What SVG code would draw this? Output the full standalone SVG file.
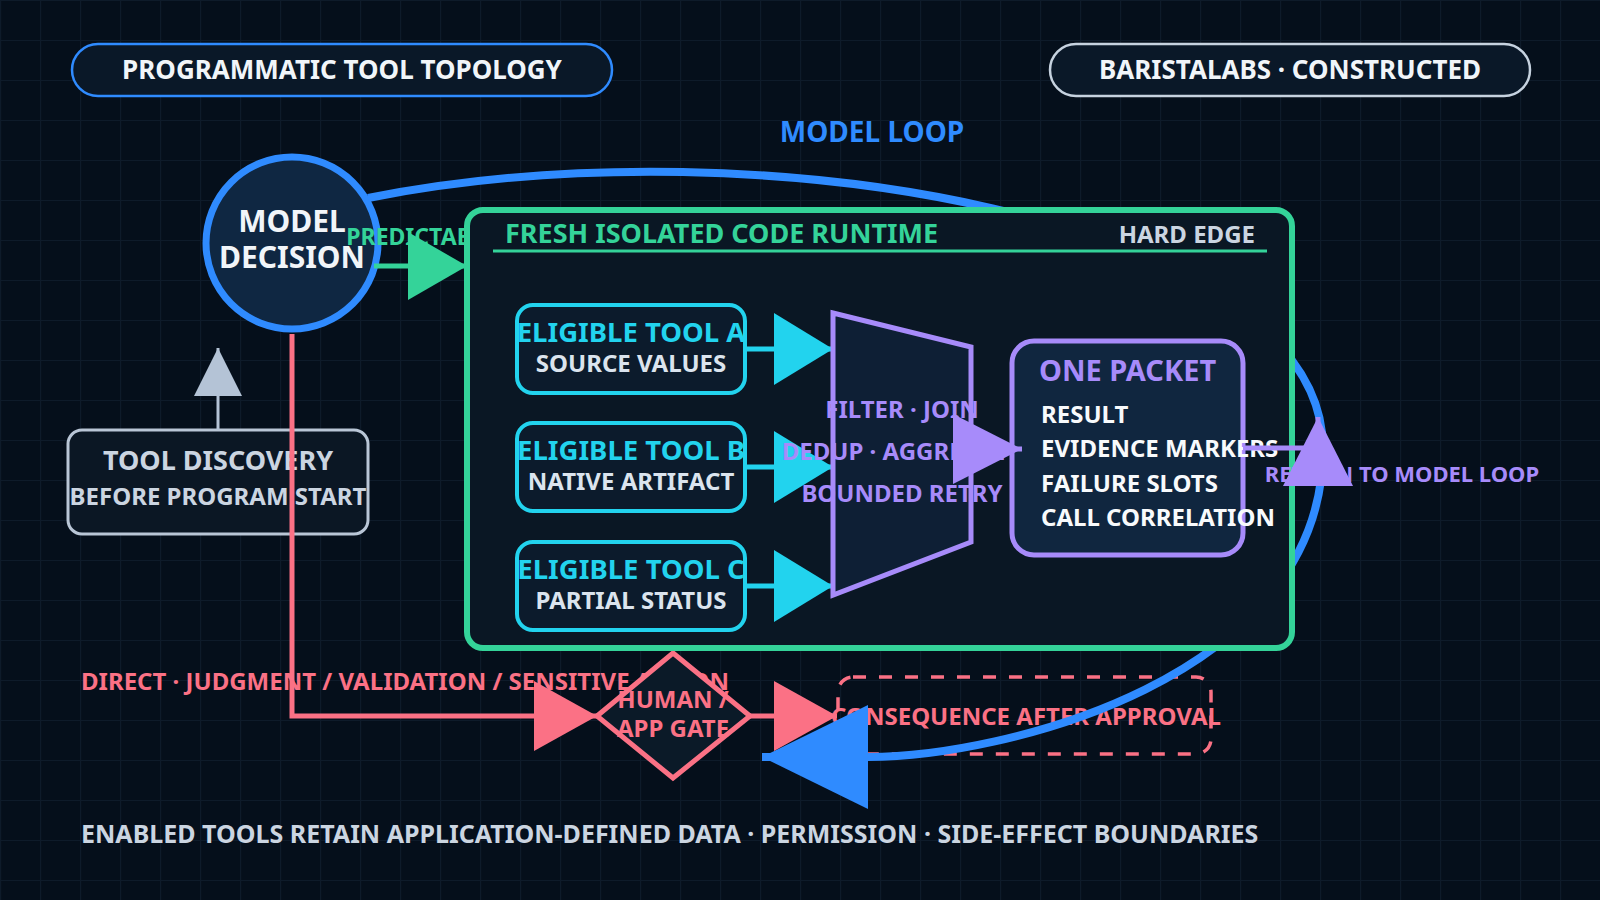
<svg xmlns="http://www.w3.org/2000/svg" width="1600" height="900" viewBox="0 0 1600 900">
  <defs>
    <pattern id="grid" x="0" y="0" width="40" height="40" patternUnits="userSpaceOnUse">
      <path d="M40 0.5 H0.5 V40" fill="none" stroke="#0e1b2a" stroke-width="1.2"/>
    </pattern>
    <marker id="mBlue" viewBox="0 0 106 104" refX="106" refY="52" markerWidth="106" markerHeight="104" markerUnits="userSpaceOnUse" orient="auto"><path d="M0 0 L106 52 L0 104 Z" fill="#2f8bff"/></marker>
    <marker id="mGreen" viewBox="0 0 59 68" refX="59" refY="34" markerWidth="59" markerHeight="68" markerUnits="userSpaceOnUse" orient="auto"><path d="M0 0 L59 34 L0 68 Z" fill="#34d399"/></marker>
    <marker id="mCyan" viewBox="0 0 59 72" refX="59" refY="36" markerWidth="59" markerHeight="72" markerUnits="userSpaceOnUse" orient="auto"><path d="M0 0 L59 36 L0 72 Z" fill="#22d3ee"/></marker>
    <marker id="mPurple" viewBox="0 0 69 70" refX="69" refY="35" markerWidth="69" markerHeight="70" markerUnits="userSpaceOnUse" orient="auto"><path d="M0 0 L69 35 L0 70 Z" fill="#a78bfa"/></marker>
    <marker id="mPink" viewBox="0 0 63 70" refX="63" refY="35" markerWidth="63" markerHeight="70" markerUnits="userSpaceOnUse" orient="auto"><path d="M0 0 L63 35 L0 70 Z" fill="#fb7185"/></marker>
    <marker id="mGray" viewBox="0 0 48 48" refX="48" refY="24" markerWidth="48" markerHeight="48" markerUnits="userSpaceOnUse" orient="auto"><path d="M0 0 L48 24 L0 48 Z" fill="#b4c3d6"/></marker>
  </defs>
  <style>
    text { font-family: "Noto Sans", "Open Sans", "DejaVu Sans", sans-serif; font-weight: 700; }
    .pill { fill: #0a1828; stroke-width: 2.5; }
    .pillText { font-size: 26px; fill: #f1f5f9; text-anchor: middle; }
    .edge { fill: none; stroke-linejoin: miter; }
    .tool { fill: #0c1b2c; stroke: #22d3ee; stroke-width: 4; }
    .toolTitle { font-size: 27.5px; fill: #22d3ee; text-anchor: middle; }
    .toolSub { font-size: 24px; fill: #dbe4ee; text-anchor: middle; }
    .purpleText { font-size: 24px; fill: #a78bfa; text-anchor: middle; }
    .packetItem { font-size: 24px; fill: #f8fafc; }
    .pinkText { font-size: 24px; fill: #fb7185; }
  </style>
  <rect x="0" y="0" width="1600" height="900" fill="#050f1b"/>
  <rect x="0" y="0" width="1600" height="900" fill="url(#grid)"/>

  <g id="title-pill">
    <rect class="pill" x="72" y="44" width="540" height="52" rx="26" stroke="#2f8bff"/>
    <text class="pillText" x="342" y="79">PROGRAMMATIC TOOL TOPOLOGY</text>
  </g>
  <g id="brand-pill">
    <rect class="pill" x="1050" y="44" width="480" height="52" rx="26" stroke="#c6d2df"/>
    <text class="pillText" x="1290" y="79">BARISTALABS · CONSTRUCTED</text>
  </g>
  <text x="872" y="142" font-size="28" fill="#2f8bff" text-anchor="middle">MODEL LOOP</text>

  <g id="model-decision">
    <circle cx="292" cy="243" r="86" fill="#0f2742" stroke="#2f8bff" stroke-width="7"/>
    <text x="292" y="232" font-size="30" fill="#f1f5f9" text-anchor="middle">MODEL</text>
    <text x="292" y="268" font-size="30" fill="#f1f5f9" text-anchor="middle">DECISION</text>
  </g>

  <g id="tool-discovery">
    <rect x="68" y="430" width="300" height="104" rx="14" fill="#0b1724" stroke="#b9c6d6" stroke-width="3"/>
    <text x="218" y="470" font-size="27" fill="#cbd5e1" text-anchor="middle">TOOL DISCOVERY</text>
    <text x="218" y="505" font-size="24" fill="#cbd5e1" text-anchor="middle">BEFORE PROGRAM START</text>
  </g>

  <text class="pinkText" x="81" y="690">DIRECT · JUDGMENT / VALIDATION / SENSITIVE ACTION</text>

  <g id="human-gate">
    <polygon points="673,653 750,716 673,778 597,716" fill="#0b1a28" stroke="#fb7185" stroke-width="5"/>
    <text class="pinkText" x="673" y="708" text-anchor="middle">HUMAN /</text>
    <text class="pinkText" x="673" y="737" text-anchor="middle">APP GATE</text>
  </g>

  <g id="consequence">
    <rect x="838" y="677" width="373" height="77" rx="15" fill="none" stroke="#fb7185" stroke-width="3.5" stroke-dasharray="13 13"/>
    <text class="pinkText" x="1026" y="725" text-anchor="middle">CONSEQUENCE AFTER APPROVAL</text>
  </g>

  <g id="outer-connectors">
    <path class="edge" d="M368 198 C760 120 1323 220 1323 449 C1323 680 1000 757 868 757 L762 757" stroke="#2f8bff" stroke-width="8" marker-end="url(#mBlue)"/>
    <path class="edge" d="M218 430 V348" stroke="#b4c3d6" stroke-width="3" marker-end="url(#mGray)"/>
    <path class="edge" d="M292 334 V716 H597" stroke="#fb7185" stroke-width="5" marker-end="url(#mPink)"/>
    <path class="edge" d="M750 716 H837" stroke="#fb7185" stroke-width="5" marker-end="url(#mPink)"/>
    <text x="422" y="245" font-size="23" fill="#34d399" text-anchor="middle">PREDICTABLE</text>
  </g>

  <g id="runtime">
    <rect x="467" y="210" width="825" height="438" rx="16" fill="#0a1724" stroke="#34d399" stroke-width="6"/>
    <text x="505" y="243" font-size="27" fill="#34d399">FRESH ISOLATED CODE RUNTIME</text>
    <text x="1255" y="243" font-size="24" fill="#cbd5e1" text-anchor="end">HARD EDGE</text>
    <line x1="493" y1="251" x2="1267" y2="251" stroke="#34d399" stroke-width="3"/>
  </g>

  <g id="model-to-runtime">
    <path class="edge" d="M374 266 H467" stroke="#34d399" stroke-width="5" marker-end="url(#mGreen)"/>
  </g>

  <g id="tool-a">
    <rect class="tool" x="517" y="305" width="228" height="88" rx="16"/>
    <text class="toolTitle" x="631" y="342">ELIGIBLE TOOL A</text>
    <text class="toolSub" x="631" y="372">SOURCE VALUES</text>
  </g>
  <g id="tool-b">
    <rect class="tool" x="517" y="423" width="228" height="88" rx="16"/>
    <text class="toolTitle" x="631" y="460">ELIGIBLE TOOL B</text>
    <text class="toolSub" x="631" y="490">NATIVE ARTIFACT</text>
  </g>
  <g id="tool-c">
    <rect class="tool" x="517" y="542" width="228" height="88" rx="16"/>
    <text class="toolTitle" x="631" y="579">ELIGIBLE TOOL C</text>
    <text class="toolSub" x="631" y="609">PARTIAL STATUS</text>
  </g>

  <g id="tool-connectors">
    <path class="edge" d="M745 349 H833" stroke="#22d3ee" stroke-width="5" marker-end="url(#mCyan)"/>
    <path class="edge" d="M745 467 H833" stroke="#22d3ee" stroke-width="5" marker-end="url(#mCyan)"/>
    <path class="edge" d="M745 586 H833" stroke="#22d3ee" stroke-width="5" marker-end="url(#mCyan)"/>
  </g>

  <g id="reducer">
    <polygon points="833,313 971,347 971,542 833,595" fill="#0e1f35" stroke="#a78bfa" stroke-width="5"/>
    <text class="purpleText" x="902" y="418">FILTER · JOIN</text>
    <text class="purpleText" x="902" y="460">DEDUP · AGGREGATE</text>
    <text class="purpleText" x="902" y="502">BOUNDED RETRY</text>
  </g>

  <g id="one-packet">
    <rect x="1012" y="341" width="231" height="214" rx="22" fill="#10263f" stroke="#a78bfa" stroke-width="5"/>
    <text x="1039" y="381" font-size="29" fill="#a78bfa">ONE PACKET</text>
    <text class="packetItem" x="1041" y="423">RESULT</text>
    <text class="packetItem" x="1041" y="457">EVIDENCE MARKERS</text>
    <text class="packetItem" x="1041" y="492">FAILURE SLOTS</text>
    <text class="packetItem" x="1041" y="526">CALL CORRELATION</text>
  </g>

  <g id="inner-connectors">
    <text x="1402" y="482" font-size="22" fill="#a78bfa" text-anchor="middle">RETURN TO MODEL LOOP</text>
    <path class="edge" d="M971 449 H1022" stroke="#a78bfa" stroke-width="5" marker-end="url(#mPurple)"/>
    <path class="edge" d="M1243 448 H1318 V417" stroke="#a78bfa" stroke-width="5" marker-end="url(#mPurple)"/>
  </g>

  <text x="81" y="843" font-size="25" fill="#cbd5e1">ENABLED TOOLS RETAIN APPLICATION-DEFINED DATA · PERMISSION · SIDE-EFFECT BOUNDARIES</text>
</svg>
